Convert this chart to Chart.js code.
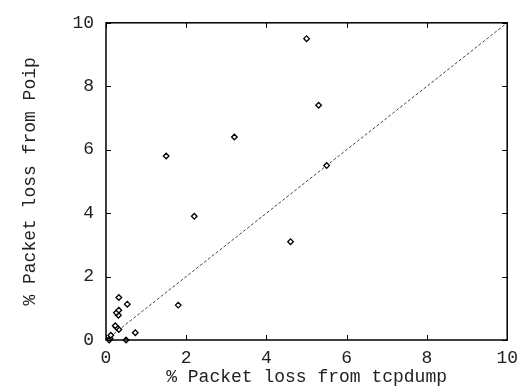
<!DOCTYPE html>
<html><head><meta charset="utf-8">
<script src="https://cdn.jsdelivr.net/npm/chart.js@4/dist/chart.umd.min.js"></script>
<style>html,body{margin:0;padding:0;background:#fff}#wrap{width:525px;height:388px}</style>
</head><body><div id="wrap"><canvas id="c"></canvas></div>
<script>
const tcpdumpLoss = [0.1, 0.08, 0.12, 0.5, 0.73, 0.32, 0.26, 0.23, 0.31, 0.26, 0.32, 0.53, 0.32, 1.8, 1.5, 2.2, 3.2, 4.6, 5.0, 5.3, 5.5];
const poipLoss    = [0.05, 0.0, 0.15, 0.0, 0.23, 0.33, 0.4, 0.45, 0.78, 0.86, 0.94, 1.13, 1.34, 1.1, 5.8, 3.9, 6.4, 3.1, 9.5, 7.4, 5.5];
const refLineX = [0, 10];
const refLineY = [0, 10];
const tickValues = [0, 2, 4, 6, 8, 10];
const xTitle = '% Packet loss from tcpdump';
const yTitle = '% Packet loss from Poip';

const FONT = "'Liberation Mono', 'DejaVu Sans Mono', monospace";

const frame = {
  id: 'frame',
  afterDatasetsDraw(chart) {
    const {ctx, chartArea: a, scales: {x, y}} = chart;
    ctx.save();
    ctx.strokeStyle = '#000';
    ctx.lineWidth = 1;
    ctx.beginPath();
    const L = 5;
    tickValues.forEach(v => {
      const px = Math.round(x.getPixelForValue(v)) + 0.5;
      ctx.moveTo(px, a.bottom); ctx.lineTo(px, a.bottom - L);
      ctx.moveTo(px, a.top); ctx.lineTo(px, a.top + L);
      const py = Math.round(y.getPixelForValue(v)) + 0.5;
      ctx.moveTo(a.left, py); ctx.lineTo(a.left + L, py);
      ctx.moveTo(a.right, py); ctx.lineTo(a.right - L, py);
    });
    ctx.stroke();
    ctx.lineWidth = 1.5;
    ctx.strokeRect(a.left, a.top, a.right - a.left, a.bottom - a.top);
    ctx.restore();
  }
};

new Chart(document.getElementById('c'), {
  type: 'scatter',
  data: {
    datasets: [
      {
        type: 'line',
        data: refLineX.map((v, i) => ({x: v, y: refLineY[i]})),
        borderColor: '#444',
        borderWidth: 1,
        borderDash: [3, 2],
        pointRadius: 0,
        fill: false,
        order: 2
      },
      {
        data: tcpdumpLoss.map((v, i) => ({x: v, y: poipLoss[i]})),
        pointStyle: 'rectRot',
        pointRadius: 2.8,
        pointBorderWidth: 1.3,
        borderColor: '#000',
        backgroundColor: '#fff',
        clip: false,
        order: 1
      }
    ]
  },
  options: {
    responsive: true,
    maintainAspectRatio: false,
    animation: false,
    events: [],
    layout: {padding: {top: 10, right: 9, left: 0, bottom: 0}},
    plugins: {legend: {display: false}, tooltip: {enabled: false}},
    scales: {
      x: {
        type: 'linear', min: 0, max: 10,
        afterBuildTicks: s => { s.ticks = tickValues.map(v => ({value: v})); },
        afterFit: s => { s.height = 48; },
        grid: {display: false, drawTicks: false},
        border: {display: false},
        ticks: {padding: 7, color: '#222', font: {family: FONT, size: 18}, maxRotation: 0},
        title: {display: true, text: xTitle, color: '#222', font: {family: FONT, size: 18}, padding: {top: 0, bottom: 0}}
      },
      y: {
        type: 'linear', min: 0, max: 10,
        afterBuildTicks: s => { s.ticks = tickValues.map(v => ({value: v})); },
        afterFit: s => { s.width = 106; },
        grid: {display: false, drawTicks: false},
        border: {display: false},
        ticks: {padding: 12, color: '#222', font: {family: FONT, size: 18}},
        title: {display: true, text: yTitle, color: '#222', font: {family: FONT, size: 18}, padding: {top: 19, bottom: 0}}
      }
    }
  },
  plugins: [frame]
});
</script>
</body></html>
